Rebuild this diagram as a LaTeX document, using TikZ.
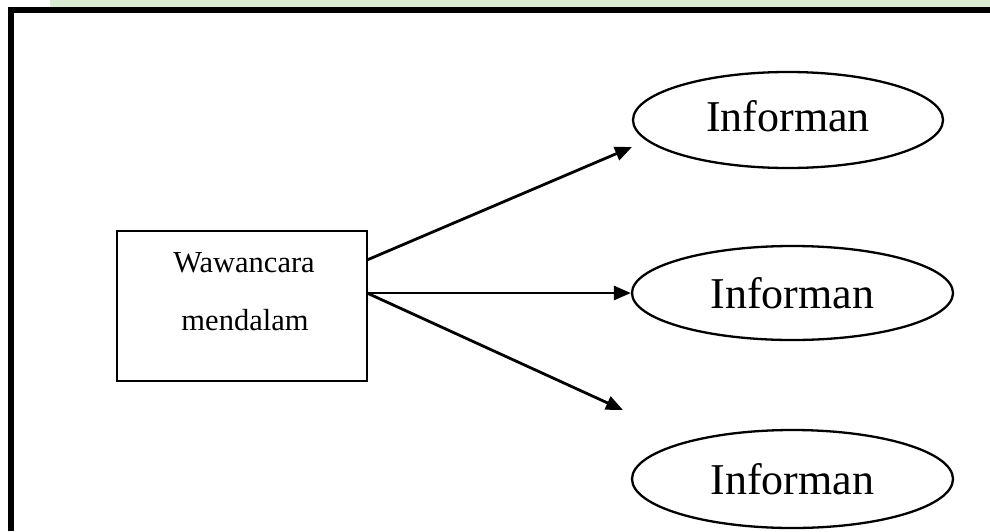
\documentclass[tikz,border=0pt]{standalone}
\usepackage{fontspec}
\setmainfont{Liberation Serif}
\usetikzlibrary{shapes.geometric,arrows.meta}
\definecolor{wmgreen}{RGB}{218,235,212}
\tikzset{
  frameline/.style={line width=6pt, line join=miter},
  infobox/.style={draw, line width=2.3pt, minimum width=250pt, minimum height=150pt, inner sep=0pt},
  infotext/.style={font=\fontsize{30.5}{36}\selectfont, inner sep=0pt},
  infell/.style={draw, ellipse, line width=2.3pt, inner sep=0pt, font=\fontsize{44}{52}\selectfont},
  flow/.style={line width=2.8pt, -{Triangle[length=17pt,width=14pt]}}
}
\begin{document}
\begin{tikzpicture}[x=1pt,y=-1pt]
\useasboundingbox (0,0) rectangle (990,531);
\fill[wmgreen] (50,0) rectangle (990,7);
% frame
\draw[frameline] (990,10) -- (11,10) -- (11,531);
% box
\node[infobox] (w) at (242,306) {};
\node[infotext] (wt) at (244,262.5) {Wawancara};
\node[infotext, anchor=base] (mt) at (245,330) {mendalam};
% ellipses
\node[infell, minimum width=310pt, minimum height=96pt] (e1) at (788,120) {\raisebox{8pt}{Informan}};
\node[infell, minimum width=321pt, minimum height=94pt] (e2) at (792.5,293) {Informan};
\node[infell, minimum width=321pt, minimum height=98pt] (e3) at (792.5,479) {\raisebox{-4pt}{Informan}};
% arrow ends
\coordinate (s1) at (367,260);
\coordinate (s2) at (367,293);
\coordinate (t1) at (632,147);
\coordinate (t3) at (623,410);
\draw[flow] (s1) -- (t1);
\draw[flow] (s2) -- (e2.west);
\draw[flow] (s2) -- (t3);
\end{tikzpicture}
\end{document}
